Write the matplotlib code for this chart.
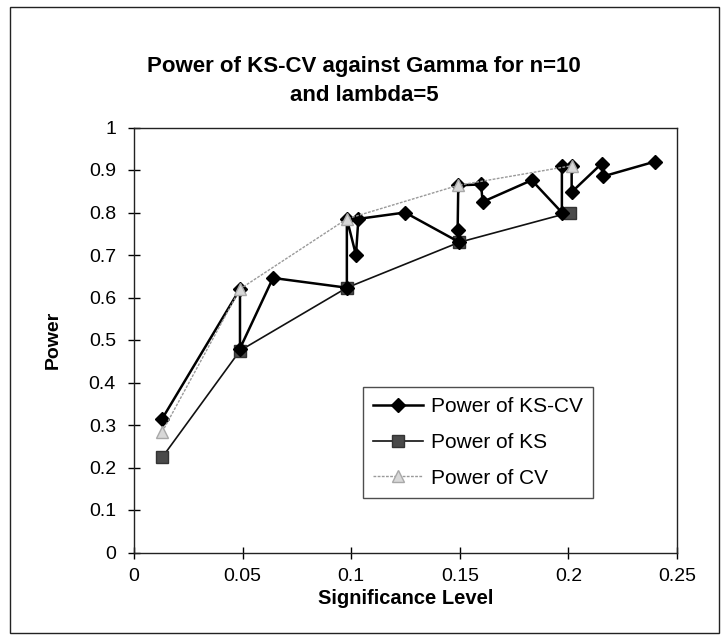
import matplotlib
matplotlib.use("Agg")
import matplotlib.pyplot as plt
from matplotlib.patches import Rectangle

plt.rcParams['font.family'] = ['Liberation Sans', 'DejaVu Sans']

# Data
kscv_x = [0.013, 0.0488, 0.0488, 0.064, 0.098, 0.098, 0.1022, 0.1033, 0.1248,
          0.1498, 0.149, 0.1493, 0.1598, 0.1605, 0.1831, 0.197, 0.197, 0.2015,
          0.2015, 0.2153, 0.216, 0.240]
kscv_y = [0.315, 0.620, 0.480, 0.646, 0.623, 0.785, 0.700, 0.785, 0.800,
          0.730, 0.758, 0.864, 0.866, 0.825, 0.876, 0.800, 0.910, 0.910,
          0.848, 0.915, 0.885, 0.920]
ks_x = [0.013, 0.0488, 0.098, 0.1498, 0.2007]
ks_y = [0.224, 0.475, 0.623, 0.730, 0.800]
cv_x = [0.013, 0.0488, 0.098, 0.1493, 0.2015]
cv_y = [0.284, 0.620, 0.785, 0.864, 0.910]

title = "Power of KS-CV against Gamma for n=10\nand lambda=5"
xlabel = "Significance Level"
ylabel = "Power"
xticks = [0, 0.05, 0.1, 0.15, 0.2, 0.25]
xtick_labels = ["0", "0.05", "0.1", "0.15", "0.2", "0.25"]
yticks = [0, 0.1, 0.2, 0.3, 0.4, 0.5, 0.6, 0.7, 0.8, 0.9, 1]
ytick_labels = ["0", "0.1", "0.2", "0.3", "0.4", "0.5", "0.6", "0.7", "0.8", "0.9", "1"]
labels = ["Power of KS-CV", "Power of KS", "Power of CV"]

W, H = 728, 636
fig = plt.figure(figsize=(W / 100, H / 100), dpi=100)
fig.patch.set_facecolor('white')

def fx(px):
    return px / W

def fy(py):
    return 1 - py / H

# outer chart frame
fig.patches.append(Rectangle((fx(10), fy(633)), (719 - 10) / W, (633 - 7) / H,
                             transform=fig.transFigure, fill=False,
                             edgecolor='#222222', linewidth=1.0))

left, right, top, bottom = 134, 677, 127.5, 552.5
ax = fig.add_axes([fx(left), fy(bottom), (right - left) / W, (bottom - top) / H])

l1, = ax.plot(kscv_x, kscv_y, color='black', linewidth=1.8, marker='D', markersize=6.8,
              markerfacecolor='black', markeredgecolor='black', zorder=4)
l2, = ax.plot(ks_x, ks_y, color='#111111', linewidth=1.2, marker='s', markersize=8,
              markerfacecolor='#4a4a4a', markeredgecolor='#333333', zorder=3)
l3, = ax.plot(cv_x, cv_y, color='#9a9a9a', linewidth=1.0, linestyle=(0, (2, 1)), marker='^',
              markersize=8.5, markerfacecolor='#d8d8d8', markeredgecolor='#a8a8a8', zorder=5)

ax.set_xlim(0, 0.25)
ax.set_ylim(0, 1)
ax.set_xticks(xticks)
ax.set_xticklabels(xtick_labels)
ax.set_yticks(yticks)
ax.set_yticklabels(ytick_labels)
ax.tick_params(direction='inout', length=8, width=1, labelsize=14)
ax.tick_params(axis='y', pad=9)
ax.tick_params(axis='x', pad=7)
for s in ax.spines.values():
    s.set_linewidth(1.0)
    s.set_color('#222222')

fig.text(fx((left + right) / 2), fy(599), xlabel, ha='center', va='center',
         fontsize=14.5, fontweight='bold')
fig.text(fx(53), fy(340), ylabel, ha='center', va='center', rotation=90,
         fontsize=14, fontweight='bold')
fig.text(fx(364), fy(81), title, ha='center', va='center',
         fontsize=16, fontweight='bold', linespacing=1.45)

leg = ax.legend([l1, l2, l3], labels, loc='upper left',
                bbox_to_anchor=(fx(363), fy(387)), bbox_transform=fig.transFigure,
                fontsize=15, frameon=True, fancybox=False, edgecolor='#222222',
                borderpad=0.5, labelspacing=0.8, handlelength=2.4, handletextpad=0.35,
                borderaxespad=0)
leg.get_frame().set_linewidth(1.0)

fig.savefig("out.png", dpi=100)
